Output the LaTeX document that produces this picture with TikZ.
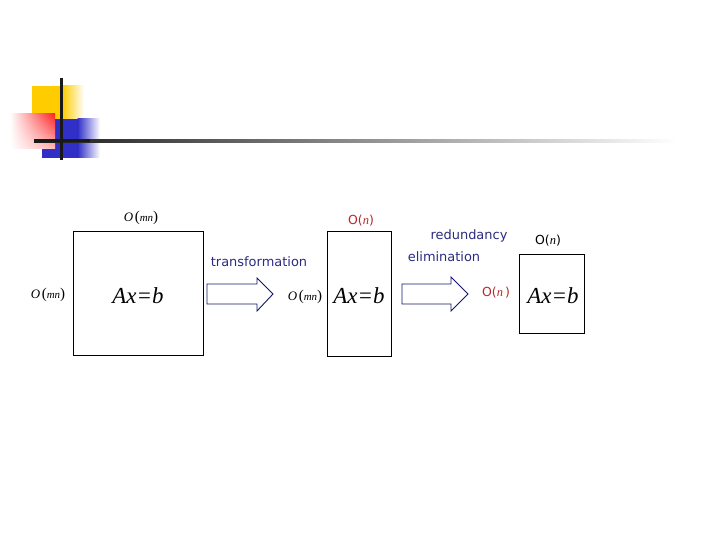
\documentclass[tikz,border=0pt]{standalone}
\usepackage{fontspec}
\usetikzlibrary{shadings}
\setmainfont{Liberation Serif}
\newfontfamily\labsans{DejaVu Sans}
\definecolor{navytext}{HTML}{2B2B80}
\definecolor{navyline}{HTML}{14146E}
\definecolor{redlab}{HTML}{B8282A}
\definecolor{decoyellow}{HTML}{FFCC00}
\definecolor{decoblue}{HTML}{3030C8}
\definecolor{decored}{HTML}{FF2020}
\newcommand{\omn}{{\fontsize{13}{14}\selectfont\textit{O}}\,{\fontsize{15}{16}\selectfont(}{\fontsize{11}{12}\selectfont\textit{mn}}{\fontsize{15}{16}\selectfont)}}
\begin{document}
\begin{tikzpicture}[x=1bp,y=-1bp,
  matbox/.style={draw=black,line width=0.9bp},
  bigarrow/.style={draw=navyline,line width=0.9bp,fill=white,line join=miter},
  eqtext/.style={font=\fontsize{23}{26}\selectfont\itshape,inner sep=0pt},
  mathlab/.style={inner sep=0pt},
  sanslab/.style={font=\labsans\fontsize{13}{15}\selectfont,inner sep=0pt,text=navytext},
  olab/.style={font=\labsans\fontsize{12.5}{14}\selectfont,inner sep=0pt}]
\useasboundingbox (0,0) rectangle (720,540);
\fill[white] (0,0) rectangle (720,540);
% decoration
\fill[decoyellow] (32,86) rectangle (63,119);
\shade[left color=decoyellow,right color=white] (62.5,86) rectangle (84,119);
\fill[decoblue] (42,119) rectangle (78,158);
\shade[left color=decoblue,right color=white] (77.5,119) rectangle (100,158);
\shade[upper right=decored,upper left=white,lower left=white,lower right=white!70!decored] (10,114) rectangle (55,149);
\shade[left color=black!90,right color=white,middle color=black!45] (34,139.5) rectangle (677,142.5);
\fill[black!90] (34,139.5) rectangle (90,142.5);
\draw[black!90,line width=2.6bp] (61.5,78) -- (61.5,160);
% boxes
\node[matbox,minimum width=130bp,minimum height=124bp,inner sep=0pt] (b1) at (138,293) {};
\node[matbox,minimum width=64bp,minimum height=125bp,inner sep=0pt] (b2) at (359,293.5) {};
\node[matbox,minimum width=65bp,minimum height=79bp,inner sep=0pt] (b3) at (551.5,293.5) {};
\node[eqtext] (e1) at (138,296) {Ax=b};
\node[eqtext] (e2) at (359,296) {Ax=b};
\node[eqtext] (e3) at (553,296) {Ax=b};
% math labels
\node[mathlab] (t1) at (141,218) {\omn};
\node[mathlab] (l1) at (48,295) {\omn};
\node[mathlab] (l2) at (305,297) {\omn};
% O(n) labels
\node[olab,text=redlab] (t2) at (361,221) {O(\textit{\rmfamily n})};
\node[olab,text=black] (t3) at (548,241) {O(\textit{\rmfamily n})};
\node[olab,text=redlab] (l3) at (496,293) {O(\textit{\rmfamily n}\,)};
% text labels
\node[sanslab] (tr) at (259,262) {transformation};
\node[sanslab] (rd) at (469,236) {redundancy};
\node[sanslab] (el) at (444,257) {elimination};
% arrows
\draw[bigarrow] (207,284) -- (257,284) -- (257,278) -- (273,294) -- (257,311) -- (257,304) -- (207,304) -- cycle;
\draw[bigarrow] (402,284) -- (451,284) -- (451,277) -- (468,294) -- (451,311) -- (451,304) -- (402,304) -- cycle;
\end{tikzpicture}
\end{document}
